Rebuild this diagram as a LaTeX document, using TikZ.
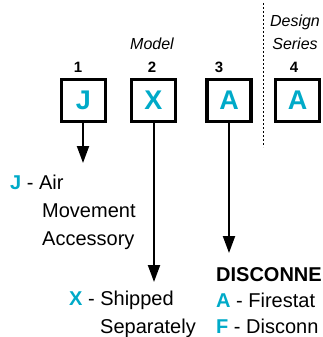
\documentclass[tikz,border=0pt]{standalone}
\usepackage{fontspec}
\setmainfont{Liberation Sans}
\usetikzlibrary{arrows.meta}
\definecolor{codecyan}{RGB}{0,170,200}
\begin{document}
\begin{tikzpicture}[x=1pt, y=-1pt,
  codebox/.style={draw=black, line width=3.5pt, minimum width=44pt, minimum height=42pt, inner sep=0pt,
    text=codecyan, font=\fontsize{27}{27}\selectfont\bfseries},
  posnum/.style={font=\fontsize{15}{15}\selectfont\bfseries, anchor=base},
  grouplabel/.style={font=\fontsize{16}{16}\selectfont\itshape, anchor=base},
  entry/.style={font=\fontsize{20}{20}\selectfont, anchor=base west, inner sep=0pt},
  pointer/.style={line width=2pt, -{Triangle[width=12pt, length=17pt]}}]
  \useasboundingbox (0,0) rectangle (322,337);
  \clip (0,0) rectangle (322,337);
  % code boxes
  \node[codebox] (box1) at (83.5,100.5) {J};
  \node[codebox] (box2) at (153.5,100.5) {X};
  \node[codebox] (box3) at (229,100.5) {A};
  \node[codebox] (box4) at (297.5,100.5) {A};
  \node[posnum] (num1) at (78,72) {1};
  \node[posnum] (num2) at (152,72) {2};
  \node[posnum] (num3) at (219,72) {3};
  \node[posnum] (num4) at (294,72) {4};
  \node[grouplabel] (model) at (152,50) {Model};
  \node[grouplabel] (design) at (295,27) {Design};
  \node[grouplabel] (series) at (295,50) {Series};
  \draw[dashed, dash pattern=on 2pt off 2pt, line width=1pt] (263,3) -- (263,147);
  % descriptions
  \node[entry] (jcode) at (10,189) {\textcolor{codecyan}{\bfseries J} - Air};
  \node[entry] (jline2) at (42,217) {Movement};
  \node[entry] (jline3) at (42,245) {Accessory};
  \node[entry] (xcode) at (69,305) {\textcolor{codecyan}{\bfseries X} - Shipped};
  \node[entry] (xline2) at (100,333) {Separately};
  \node[entry, font=\fontsize{20}{20}\selectfont\bfseries] (disc) at (216,281) {DISCONNE};
  \node[entry] (acode) at (216,307) {\textcolor{codecyan}{\bfseries A} - Firestat};
  \node[entry] (fcode) at (216,333) {\textcolor{codecyan}{\bfseries F} - Disconn};
  % pointers
  \coordinate (tip1) at (83,163);
  \coordinate (tip2) at (154,282);
  \coordinate (tip3) at (229,253);
  \draw[pointer] (box1.south -| tip1) -- (tip1);
  \draw[pointer] (box2.south -| tip2) -- (tip2);
  \draw[pointer] (box3.south) -- (tip3);
\end{tikzpicture}
\end{document}
